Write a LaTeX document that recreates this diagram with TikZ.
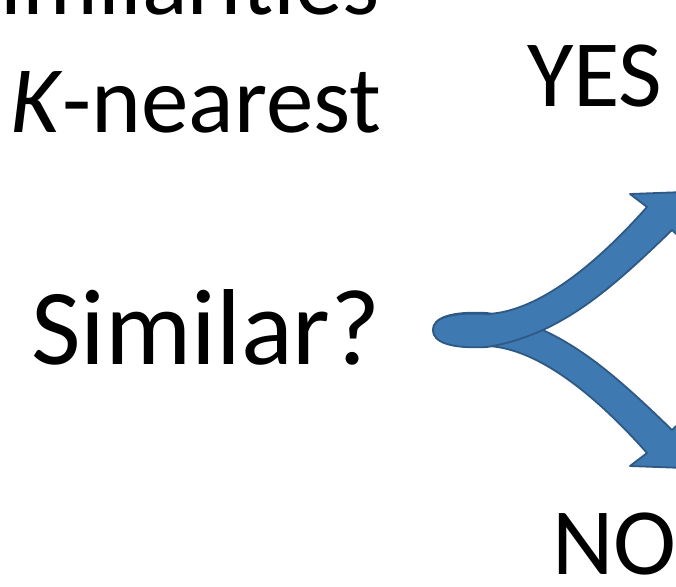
\documentclass[tikz,border=0pt]{standalone}
\usepackage{fontspec}
\setmainfont{Carlito}
\definecolor{arrowfill}{RGB}{63,121,177}
\definecolor{arrowline}{RGB}{46,89,132}
\tikzset{
  lbl/.style={inner sep=0pt, outer sep=0pt, font=\fontsize{95}{95}\selectfont},
  biglbl/.style={inner sep=0pt, outer sep=0pt, font=\fontsize{108}{108}\selectfont},
  bluearrow/.style={fill=arrowfill, draw=arrowline, line width=1.8pt, line join=round}
}
\begin{document}
\begin{tikzpicture}[x=1pt,y=-1pt]
\useasboundingbox (0,0) rectangle (676,586);
\clip (0,0) rectangle (676,586);
\fill[white] (0,0) rectangle (676,586);
% text
\node[lbl, anchor=base east] (sim) at (380,15) {imilarities};
\node[lbl, anchor=base west] (knn) at (10,132) {\textit{K}-nearest};
\node[lbl, anchor=base west] (yes) at (527,106) {YES};
\node[biglbl, anchor=base west] (q) at (31,364) {Similar?};
\node[lbl, anchor=base west] (no) at (552,574) {NO};
% lower arrow
\path[bluearrow] (487,346) .. controls (540,348) and (600,400) .. (647,453) -- (630,466) -- (684,468) -- (687,416) -- (672,430) .. controls (610,370) and (560,325) .. (487,313) .. controls (450,311) and (433,318) .. (433,330) .. controls (433,342) and (450,348) .. (487,346) -- cycle;
% upper arrow
\path[bluearrow] (487,314) .. controls (540,312) and (600,260) .. (647,207) -- (630,194) -- (684,192) -- (687,244) -- (672,230) .. controls (610,290) and (560,335) .. (487,347) .. controls (450,349) and (433,342) .. (433,330) .. controls (433,318) and (450,312) .. (487,314) -- cycle;
\end{tikzpicture}
\end{document}
